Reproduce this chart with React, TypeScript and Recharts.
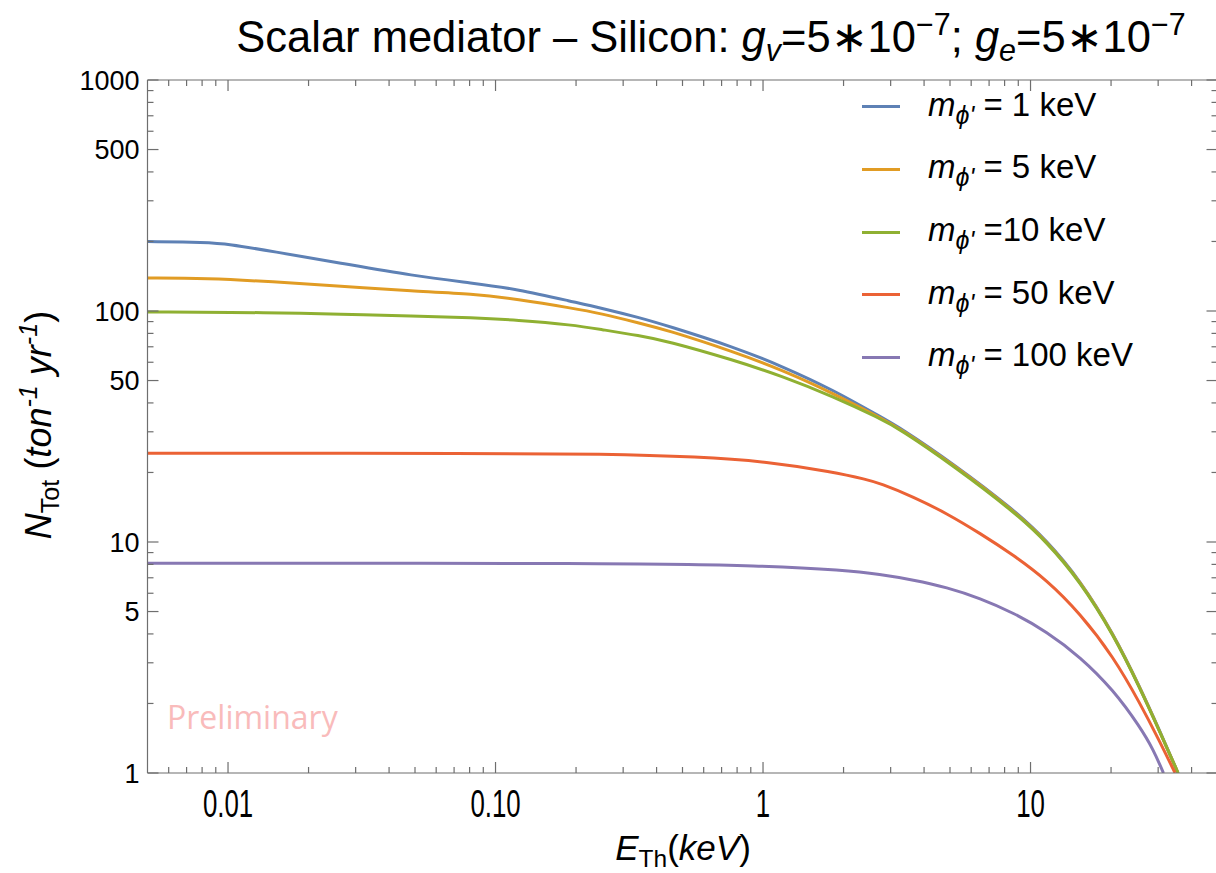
import React from 'react';
import { LineChart, Line, XAxis, YAxis, ReferenceLine, Legend } from 'recharts';

// ---------- data ----------
const SERIES_NAMES = ['1 keV', '5 keV', '10 keV', '50 keV', '100 keV'];
const LEGEND_SUFFIX = [' = 1 keV', ' = 5 keV', ' =10 keV', ' = 50 keV', ' = 100 keV'];
const COLORS = ['#5E81B5', '#E19C24', '#8FB032', '#EB6235', '#8778B3'];

const E_M1 = [0.005, 0.0083, 0.01, 0.0147, 0.0262, 0.0492, 0.0825, 0.12, 0.195, 0.246, 0.347, 0.436, 0.775, 1.19, 1.83, 2.73, 3.25, 5.15, 8.63, 11.5, 15.31, 20.4, 25.7, 30.5, 35.6];
const N_M1 = [200, 198, 195, 181, 161.5, 142, 132, 124.5, 109.6, 103.3, 93.5, 86.5, 70, 57.4, 45.5, 35.0, 31.3, 21.8, 13.85, 10.15, 6.85, 4.02, 2.34, 1.51, 1.0];

const E_M5 = [0.005, 0.0083, 0.0147, 0.0262, 0.0492, 0.0825, 0.12, 0.195, 0.246, 0.347, 0.436, 0.775, 1.19, 1.83, 2.73, 3.25, 5.15, 8.63, 11.5, 15.31, 20.4, 25.7, 30.5, 35.6];
const N_M5 = [139, 138.5, 134, 128, 122, 118.6, 112.5, 102.7, 97.7, 88.5, 82.8, 66.7, 55.3, 44, 34.6, 31.0, 21.6, 13.7, 10.07, 6.8, 4.0, 2.33, 1.5, 1.0];

const E_M10 = [0.005, 0.0147, 0.0262, 0.0492, 0.0825, 0.12, 0.195, 0.246, 0.347, 0.436, 0.775, 1.19, 1.83, 2.73, 3.25, 5.15, 8.63, 11.5, 15.31, 20.4, 25.7, 30.5, 35.6];
const N_M10 = [99, 98.5, 97, 95, 93.5, 91.4, 87, 83.3, 78.2, 74.2, 61.4, 52, 42.6, 34.3, 30.8, 21.4, 13.6, 10.0, 6.76, 3.98, 2.32, 1.5, 1.0];

const E_M50 = [0.005, 0.1, 0.246, 0.58, 1.03, 1.83, 2.44, 2.737, 3.65, 4.86, 6.48, 8.63, 11.5, 15.31, 20.4, 25.7, 30.5, 34.7];
const N_M50 = [24.2, 24.2, 24.1, 23.4, 22.3, 20.1, 18.65, 17.95, 15.7, 13.3, 10.9, 8.78, 6.85, 4.91, 3.19, 2.0, 1.36, 1.0];

const E_M100 = [0.005, 0.3, 1.0, 2.0, 2.737, 3.65, 4.86, 6.48, 8.63, 11.5, 15.31, 20.4, 25.7, 28.8, 31.4];
const N_M100 = [8.1, 8.1, 7.9, 7.55, 7.25, 6.85, 6.37, 5.71, 4.94, 4.09, 3.19, 2.29, 1.58, 1.26, 1.0];

const X_MAJOR = [0.01, 0.1, 1, 10];
const X_MAJOR_LABELS = ['0.01', '0.10', '1', '10'];
const X_MINOR = [0.006, 0.007, 0.008, 0.009, 0.02, 0.03, 0.04, 0.05, 0.06, 0.07, 0.08, 0.09, 0.2, 0.3, 0.4, 0.5, 0.6, 0.7, 0.8, 0.9, 2, 3, 4, 5, 6, 7, 8, 9, 20, 30, 40];
const Y_LABELED = [1, 5, 10, 50, 100, 500, 1000];
const Y_MINOR = [2, 3, 4, 6, 7, 8, 9, 20, 30, 40, 60, 70, 80, 90, 200, 300, 400, 600, 700, 800, 900];

const X_DOMAIN = [0.005, 50];
const Y_DOMAIN = [1, 1000];

const toPoints = (xs: number[], ys: number[]) => xs.map((x, i) => ({ x, y: ys[i] }));
const SERIES = [
  toPoints(E_M1, N_M1),
  toPoints(E_M5, N_M5),
  toPoints(E_M10, N_M10),
  toPoints(E_M50, N_M50),
  toPoints(E_M100, N_M100),
];

// ---------- layout constants ----------
const CHART_W = 1220;
const CHART_H = 873;
const M_TOP = 80;
const AX_LEFT_W = 147.5;
const AX_BOTTOM_H = 100;
const M_RIGHT = 2.5;
const PLOT_LEFT = AX_LEFT_W;
const PLOT_RIGHT = CHART_W - M_RIGHT;
const PLOT_TOP = M_TOP;
const PLOT_BOTTOM = CHART_H - AX_BOTTOM_H;
const FRAME = '#6e6e6e';
const MAJOR_LEN = 11;
const MINOR_LEN = 6;
const FONT = '"Liberation Sans", Arial, Helvetica, sans-serif';

const near = (a: number, b: number) => Math.abs(a - b) / b < 1e-6;

const XTick = (props: any) => {
  const { x, payload } = props;
  const v = payload.value;
  const mi = X_MAJOR.findIndex((m) => near(v, m));
  const len = mi >= 0 ? MAJOR_LEN : MINOR_LEN;
  return (
    <g>
      <line x1={x} x2={x} y1={PLOT_BOTTOM} y2={PLOT_BOTTOM - len} stroke={FRAME} strokeWidth={1.2} />
      <line x1={x} x2={x} y1={PLOT_TOP} y2={PLOT_TOP + len} stroke={FRAME} strokeWidth={1.2} />
      {mi >= 0 && (
        <text
          transform={`translate(${x} ${PLOT_BOTTOM + 44}) scale(0.68 1)`}
          x={0}
          y={0}
          textAnchor="middle"
          fontFamily={FONT}
          fontSize={38}
          fill="#000"
        >
          {X_MAJOR_LABELS[mi]}
        </text>
      )}
    </g>
  );
};

const YTick = (props: any) => {
  const { y, payload } = props;
  const v = payload.value;
  const labeled = Y_LABELED.some((m) => near(v, m));
  const len = labeled ? MAJOR_LEN : MINOR_LEN;
  return (
    <g>
      <line x1={PLOT_LEFT} x2={PLOT_LEFT + len} y1={y} y2={y} stroke={FRAME} strokeWidth={1.2} />
      <line x1={PLOT_RIGHT} x2={PLOT_RIGHT - len} y1={y} y2={y} stroke={FRAME} strokeWidth={1.2} />
      {labeled && (
        <text x={PLOT_LEFT - 8} y={y + 9.5} textAnchor="end" fontFamily={FONT} fontSize={27} fill="#000">
          {String(v)}
        </text>
      )}
    </g>
  );
};

const LEG_LEFT = 855;
const LEG_TOP = 80;
const LEG_ROW0 = 26.7;
const LEG_STEP = 62.65;

const renderLegend = () => (
  <div style={{ position: 'relative', width: 361, height: 320, fontFamily: FONT }}>
    {SERIES_NAMES.map((n, i) => (
      <div
        key={n}
        style={{
          position: 'absolute',
          left: 0,
          top: LEG_ROW0 + i * LEG_STEP - 20,
          height: 40,
          width: 361,
        }}
      >
        <div style={{ position: 'absolute', left: 7, top: 18.5, width: 38, height: 3, background: COLORS[i] }} />
        <div
          style={{
            position: 'absolute',
            left: 73,
            top: -2,
            height: 40,
            lineHeight: '40px',
            fontSize: 33,
            whiteSpace: 'nowrap',
            color: '#000',
          }}
        >
          <i>m</i>
          <span style={{ fontSize: '0.76em', fontStyle: 'italic', position: 'relative', top: '0.32em' }}>ϕ'</span>
          {LEGEND_SUFFIX[i]}
        </div>
      </div>
    ))}
  </div>
);

const sub: React.CSSProperties = { fontSize: '0.7em', position: 'relative', top: '0.3em' };
const sup: React.CSSProperties = { fontSize: '0.7em', position: 'relative', top: '-0.55em' };

export default function App() {
  const xTicks = [...X_MINOR, ...X_MAJOR].sort((a, b) => a - b);
  const yTicks = [...Y_MINOR, ...Y_LABELED].sort((a, b) => a - b);
  return (
    <div style={{ position: 'relative', width: 1216, height: 873, overflow: 'hidden', background: '#fff' }}>
      <style>{'html,body{margin:0;padding:0;overflow:hidden;background:#fff}'}</style>
      <LineChart
        width={CHART_W}
        height={CHART_H}
        margin={{ top: M_TOP, right: M_RIGHT, bottom: 0, left: 0 }}
      >
        <XAxis
          dataKey="x"
          type="number"
          scale="log"
          domain={X_DOMAIN}
          allowDataOverflow
          ticks={xTicks}
          interval={0}
          tick={<XTick />}
          tickLine={false}
          axisLine={{ stroke: FRAME, strokeWidth: 1.2 }}
          height={AX_BOTTOM_H}
        />
        <YAxis
          type="number"
          scale="log"
          domain={Y_DOMAIN}
          allowDataOverflow
          ticks={yTicks}
          interval={0}
          tick={<YTick />}
          tickLine={false}
          axisLine={{ stroke: FRAME, strokeWidth: 1.2 }}
          width={AX_LEFT_W}
        />
        <ReferenceLine y={1000} stroke={FRAME} strokeWidth={1.2} />
        <ReferenceLine x={50} stroke={FRAME} strokeWidth={1.2} />
        {SERIES.map((d, i) => (
          <Line
            key={SERIES_NAMES[i]}
            data={d}
            dataKey="y"
            name={SERIES_NAMES[i]}
            type="basis"
            stroke={COLORS[i]}
            strokeWidth={3}
            dot={false}
            activeDot={false}
            isAnimationActive={false}
          />
        ))}
        <Legend
          content={renderLegend}
          layout="vertical"
          verticalAlign="middle"
          align="center"
          wrapperStyle={{ left: LEG_LEFT, top: LEG_TOP, width: 361, height: 320 }}
        />
      </LineChart>

      {/* title */}
      <div
        style={{
          position: 'absolute',
          left: 0,
          width: 1422,
          top: 12,
          textAlign: 'center',
          fontFamily: FONT,
          fontSize: 43.5,
          lineHeight: '50px',
          whiteSpace: 'nowrap',
          color: '#000',
        }}
      >
        Scalar mediator – Silicon: <i>g</i>
        <span style={{ ...sub, fontStyle: 'italic' }}>v</span>=5∗10<span style={sup}>−7</span>; <i>g</i>
        <span style={{ ...sub, fontStyle: 'italic' }}>e</span>=5∗10<span style={sup}>−7</span>
      </div>

      {/* y label */}
      <div
        style={{
          position: 'absolute',
          left: 40,
          top: 425,
          transform: 'translate(-50%, -50%) rotate(-90deg)',
          fontFamily: FONT,
          fontSize: 36,
          whiteSpace: 'nowrap',
          color: '#000',
          lineHeight: '40px',
        }}
      >
        <i>N</i>
        <span style={sub}>Tot</span> (<i>ton</i>
        <span style={{ ...sup, fontStyle: 'italic' }}>-1</span>
        <i> yr</i>
        <span style={{ ...sup, fontStyle: 'italic' }}>-1</span>)
      </div>

      {/* x label */}
      <div
        style={{
          position: 'absolute',
          left: 683,
          top: 850,
          transform: 'translate(-50%, -50%)',
          fontFamily: FONT,
          fontSize: 35,
          whiteSpace: 'nowrap',
          color: '#000',
          lineHeight: '40px',
        }}
      >
        <i>E</i>
        <span style={sub}>Th</span>(<i>keV</i>)
      </div>

      {/* watermark */}
      <div
        style={{
          position: 'absolute',
          left: 167,
          top: 699,
          fontFamily: '"Open Sans", "Noto Sans", sans-serif',
          fontSize: 32,
          color: '#F9BBBB',
          whiteSpace: 'nowrap',
          lineHeight: '36px',
        }}
      >
        Preliminary
      </div>
    </div>
  );
}
